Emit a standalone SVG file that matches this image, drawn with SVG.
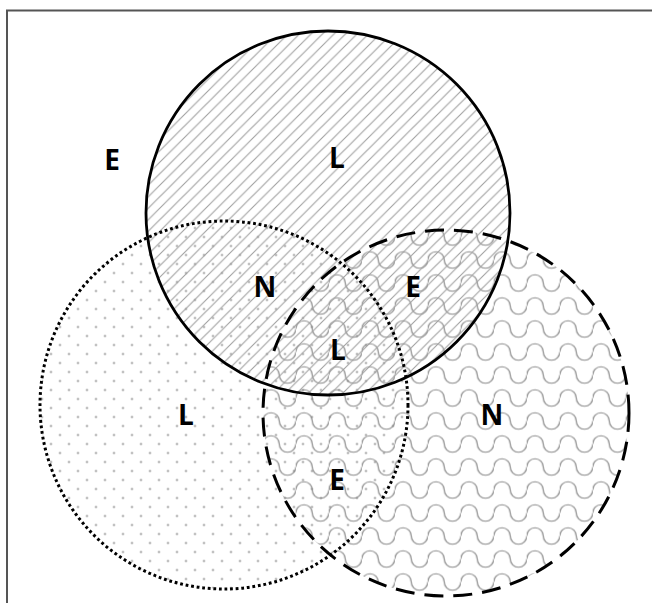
<svg xmlns="http://www.w3.org/2000/svg" width="652" height="603" viewBox="0 0 652 603">
  <style>
    .lbl { font-family: "Open Sans", "Liberation Sans", sans-serif; font-weight: 700; font-size: 28px; fill: #000; text-anchor: middle; }
    .outline { fill: none; stroke: #000; }
    .solid { stroke-width: 2.8; }
    .dotted { stroke-width: 3; stroke-dasharray: 2.8 2.8; }
    .dashed { stroke-width: 3; stroke-dasharray: 19 10; }
  </style>
  <defs>
    <pattern id="hatch" patternUnits="userSpaceOnUse" width="11.5" height="11.5">
      <path d="M-2,2 L2,-2 M0,11.5 L11.5,0 M9.5,13.5 L13.5,9.5" stroke="#a0a0a0" stroke-width="1.1" fill="none"/>
    </pattern>
    <pattern id="dots" patternUnits="userSpaceOnUse" x="55.5" y="376.5" width="18" height="18">
      <circle cx="4.5" cy="4.5" r="0.95" fill="#7a7a7a"/>
      <circle cx="13.5" cy="13.5" r="0.95" fill="#7a7a7a"/>
    </pattern>
    <pattern id="waves" patternUnits="userSpaceOnUse" x="328.75" y="455.5" width="33" height="23">
      <path d="M0,11.5 a8.25,8.25 0 0 1 16.5,0 a8.25,8.25 0 0 0 16.5,0" stroke="#8a8a8a" stroke-width="1.2" fill="none"/>
    </pattern>
  </defs>

  <rect x="7" y="10.5" width="660" height="610" fill="#fff" stroke="#555" stroke-width="2"/>

  <g id="fills">
    <circle cx="224" cy="405" r="184" fill="url(#dots)"/>
    <circle cx="446" cy="413" r="183" fill="url(#waves)"/>
    <circle cx="328" cy="213" r="182" fill="url(#hatch)"/>
  </g>

  <g id="set-dotted">
    <circle class="outline dotted" cx="224" cy="405" r="184"/>
  </g>
  <g id="set-dashed">
    <circle class="outline dashed" cx="446" cy="413" r="183"/>
  </g>
  <g id="set-solid">
    <circle class="outline solid" cx="328" cy="213" r="182"/>
  </g>

  <g id="connectors"></g>

  <g id="labels">
    <text class="lbl" x="112" y="170">E</text>
    <text class="lbl" x="337" y="168">L</text>
    <text class="lbl" x="265" y="297">N</text>
    <text class="lbl" x="413" y="297">E</text>
    <text class="lbl" x="338" y="360">L</text>
    <text class="lbl" x="186" y="425">L</text>
    <text class="lbl" x="492" y="425">N</text>
    <text class="lbl" x="337" y="490">E</text>
  </g>
</svg>
